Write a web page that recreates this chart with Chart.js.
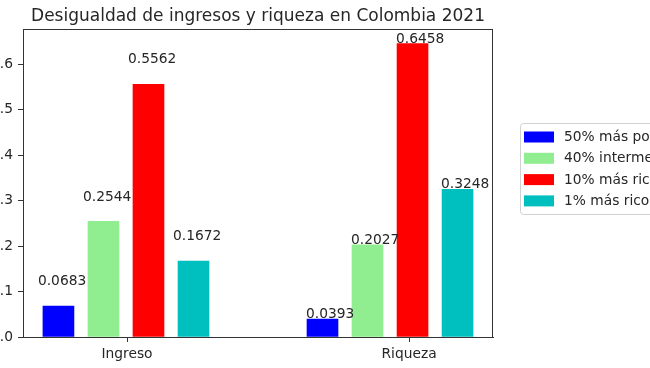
<!DOCTYPE html>
<html>
<head>
<meta charset="utf-8">
<script src="https://cdn.jsdelivr.net/npm/chart.js@4.4.1/dist/chart.umd.min.js"></script>
<style>
  html, body { margin: 0; padding: 0; background: #fff; overflow: hidden; }
  #wrap { position: absolute; left: -40px; top: 0; width: 800px; height: 368px; }
</style>
</head>
<body>
<div id="wrap"><canvas id="chart" width="800" height="368"></canvas></div>
<script>
// --- Data ---
const categories = ['Ingreso', 'Riqueza'];
const groups = ['50% más pobres', '40% intermedio', '10% más ricos', '1% más ricos'];
const pobres50 = [0.0683, 0.0393];
const intermedio40 = [0.2544, 0.2027];
const ricos10 = [0.5562, 0.6458];
const ricos1 = [0.1672, 0.3248];
const yTicks = [0.0, 0.1, 0.2, 0.3, 0.4, 0.5, 0.6];

// --- Layout (x in "group" units) ---
const groupX = [0, 1];
const slot = 0.1705;
const xTickPos = [0.004, 1.072];
const colors = ['#0000ff', '#90ee90', '#ff0000', '#00bfbf'];
const textColor = '#262626';
const FONT = 'DejaVu Sans';

const series = [pobres50, intermedio40, ricos10, ricos1];

const datasets = series.map((values, k) => ({
  label: groups[k],
  data: values.map((v, i) => ({ x: groupX[i] + (k - 1.5) * slot, y: v })),
  backgroundColor: colors[k],
  barThickness: 31,
  grouped: false
}));

// title, frame, value labels and legend drawn matplotlib-style
const decorations = {
  id: 'decorations',
  afterDraw(chart) {
    const { ctx, chartArea: a, scales } = chart;
    ctx.save();

    // axes frame
    ctx.strokeStyle = '#333';
    ctx.lineWidth = 1;
    ctx.strokeRect(a.left + 0.5, a.top + 0.5, a.right - a.left - 1, a.bottom - a.top);

    // title
    ctx.fillStyle = textColor;
    ctx.font = '17px "' + FONT + '"';
    ctx.textAlign = 'center';
    ctx.textBaseline = 'alphabetic';
    ctx.fillText('Desigualdad de ingresos y riqueza en Colombia 2021', (a.left + a.right) / 2, 20.5);

    // value labels
    ctx.font = '13.8px "' + FONT + '"';
    ctx.textAlign = 'left';
    chart.data.datasets.forEach((ds, k) => {
      chart.getDatasetMeta(k).data.forEach((bar, i) => {
        const v = ds.data[i].y;
        const left = bar.x - bar.width / 2;
        const txt = v.toFixed(4);
        if (i === 0) {
          ctx.fillText(txt, left - 5, scales.y.getPixelForValue(v + 0.046));
        } else {
          ctx.fillText(txt, left - 1, bar.y - 1);
        }
      });
    });

    // legend
    const lx = 560, ly = 123, lh = 91;
    ctx.fillStyle = 'rgba(255,255,255,0.8)';
    ctx.strokeStyle = '#d0d0d0';
    ctx.beginPath();
    ctx.roundRect(lx + 0.5, ly + 0.5, 300, lh, 3);
    ctx.fill();
    ctx.stroke();
    ctx.textBaseline = 'middle';
    chart.data.datasets.forEach((ds, k) => {
      const cy = 137 + k * 21.3;
      ctx.fillStyle = ds.backgroundColor;
      ctx.fillRect(lx + 4, cy - 5.5, 30, 11);
      ctx.fillStyle = textColor;
      ctx.fillText(ds.label, lx + 44, cy + 0.5);
    });

    ctx.restore();
  }
};

new Chart(document.getElementById('chart'), {
  type: 'bar',
  data: { datasets },
  options: {
    responsive: false,
    animation: false,
    layout: { padding: { top: 29, right: 267, left: 0, bottom: 0 } },
    plugins: {
      legend: { display: false },
      title: { display: false },
      tooltip: { enabled: false }
    },
    scales: {
      x: {
        type: 'linear',
        min: -0.39,
        max: 1.39,
        offset: false,
        afterBuildTicks: s => { s.ticks = xTickPos.map(v => ({ value: v })); },
        afterFit: s => { s.height = 31; },
        ticks: {
          callback: (v, i) => categories[i],
          font: { family: FONT, size: 13.8 },
          color: textColor,
          padding: 4,
          maxRotation: 0
        },
        grid: { offset: false, drawOnChartArea: false, drawTicks: true, tickLength: 5, color: '#333' },
        border: { display: true, color: '#333' }
      },
      y: {
        min: 0,
        max: 0.678,
        afterBuildTicks: s => { s.ticks = yTicks.map(v => ({ value: v })); },
        afterFit: s => { s.width = 63; },
        ticks: {
          callback: v => v.toFixed(1),
          font: { family: FONT, size: 13.8 },
          color: textColor,
          padding: 5
        },
        grid: { drawOnChartArea: false, drawTicks: true, tickLength: 5, color: '#333' },
        border: { display: true, color: '#333' }
      }
    }
  },
  plugins: [decorations]
});
</script>
</body>
</html>
